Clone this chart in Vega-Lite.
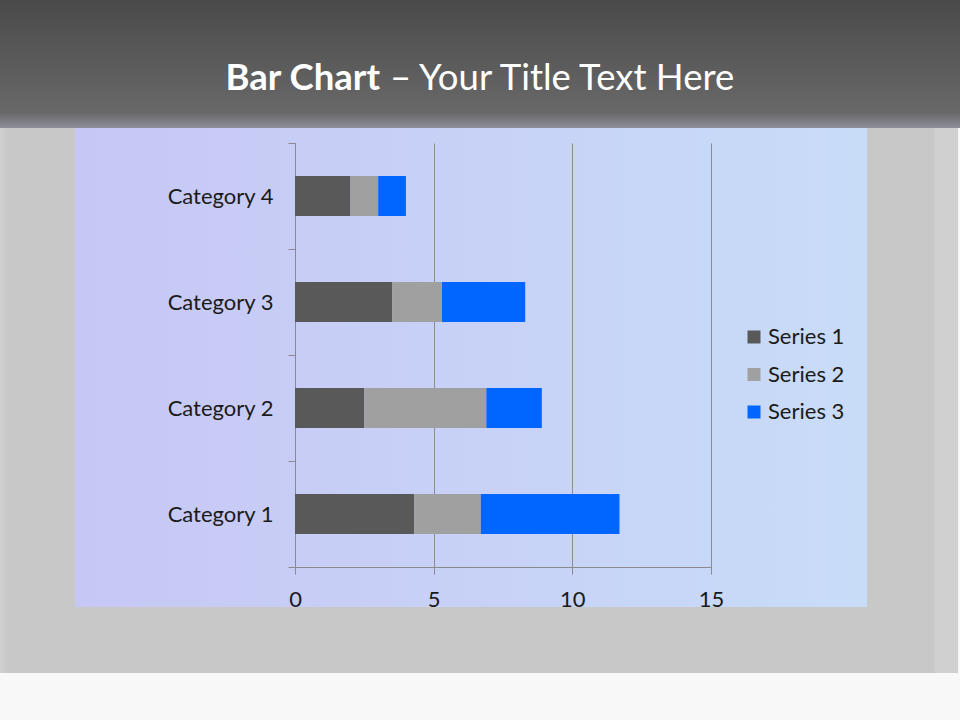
{
  "$schema": "https://vega.github.io/schema/vega-lite/v6.json",
  "description": "Stacked horizontal bar chart on a slide-style background.",
  "background": "#f8f8f8",
  "padding": 0,
  "spacing": 0,
  "bounds": "flush",
  "config": {"view": {"stroke": null}, "font": "Lato"},
  "resolve": {"legend": {"color": "independent"}},
  "datasets": {
    "bars": [
      {"category": "Category 1", "series": "Series 1", "value": 4.3},
      {"category": "Category 1", "series": "Series 2", "value": 2.4},
      {"category": "Category 1", "series": "Series 3", "value": 5.0},
      {"category": "Category 2", "series": "Series 1", "value": 2.5},
      {"category": "Category 2", "series": "Series 2", "value": 4.4},
      {"category": "Category 2", "series": "Series 3", "value": 2.0},
      {"category": "Category 3", "series": "Series 1", "value": 3.5},
      {"category": "Category 3", "series": "Series 2", "value": 1.8},
      {"category": "Category 3", "series": "Series 3", "value": 3.0},
      {"category": "Category 4", "series": "Series 1", "value": 2.0},
      {"category": "Category 4", "series": "Series 2", "value": 1.0},
      {"category": "Category 4", "series": "Series 3", "value": 1.0}
    ]
  },
  "vconcat": [
    {
      "width": 960,
      "height": 128,
      "view": {
        "stroke": null,
        "fill": {
          "gradient": "linear", "x1": 0, "y1": 0, "x2": 0, "y2": 1,
          "stops": [
            {"offset": 0, "color": "#4a4a4a"},
            {"offset": 0.88, "color": "#686868"},
            {"offset": 1, "color": "#8e8e9a"}
          ]
        }
      },
      "data": {"values": [{"bold": "Bar Chart", "rest": "– Your Title Text Here"}]},
      "layer": [
        {
          "mark": {"type": "text", "align": "right", "baseline": "alphabetic", "dx": -100, "dy": 26,
                   "font": "Lato", "fontSize": 36.5, "fontWeight": "bold", "color": "#ffffff"},
          "encoding": {"text": {"field": "bold"}}
        },
        {
          "mark": {"type": "text", "align": "left", "baseline": "alphabetic", "dx": -90, "dy": 26,
                   "font": "Lato", "fontSize": 36.5, "fontWeight": "normal", "color": "#ffffff"},
          "encoding": {"text": {"field": "rest"}}
        }
      ]
    },
    {
      "width": 958,
      "height": 454,
      "view": {
        "stroke": null,
        "fill": {
          "gradient": "linear", "x1": 0, "y1": 0, "x2": 1, "y2": 0,
          "stops": [
            {"offset": 0, "color": "#d0d0d0"},
            {"offset": 0.008, "color": "#c8c8c8"},
            {"offset": 0.0783, "color": "#c8c8c8"},
            {"offset": 0.0784, "color": "#c7c7f5"},
            {"offset": 0.905, "color": "#c8dcf8"},
            {"offset": 0.9051, "color": "#c8c8c8"},
            {"offset": 0.975, "color": "#c8c8c8"},
            {"offset": 0.976, "color": "#d0d0d0"},
            {"offset": 1, "color": "#d0d0d0"}
          ]
        }
      },
      "data": {"name": "bars"},
      "mark": {"type": "bar", "strokeWidth": 0, "height": {"band": 0.377}},
      "encoding": {
        "y": {
          "field": "category", "type": "nominal", "sort": "descending",
          "scale": {"range": [15, 439], "paddingInner": 0, "paddingOuter": 0},
          "axis": {
            "title": null, "orient": "left", "offset": -295, "tickBand": "extent",
            "tickSize": 7, "domainColor": "#8a8a8a", "tickColor": "#8a8a8a",
            "labelFont": "Lato", "labelFontSize": 22, "labelColor": "#1a1a1a", "labelPadding": 15,
            "grid": false
          }
        },
        "x": {
          "field": "value", "type": "quantitative", "stack": "zero",
          "scale": {"domain": [0, 15], "range": [295, 711], "nice": false},
          "axis": {
            "title": null, "orient": "bottom", "values": [0, 5, 10, 15],
            "grid": true, "gridColor": "#8c8c8c", "gridOpacity": 1, "gridWidth": 1,
            "domain": false, "ticks": false, "labels": false
          }
        },
        "color": {
          "field": "series", "type": "nominal",
          "scale": {"domain": ["Series 1", "Series 2", "Series 3"], "range": ["#595959", "#a0a0a0", "#0066ff"]},
          "legend": {
            "title": null, "orient": "none", "legendX": 743, "legendY": 198, "padding": 0,
            "symbolType": "square", "symbolSize": 169, "symbolStrokeWidth": 0,
            "labelFont": "Lato", "labelFontSize": 22, "labelColor": "#1a1a1a",
            "labelOffset": 3, "rowPadding": 15.5
          }
        }
      }
    },
    {
      "width": 958,
      "height": 25,
      "view": {
        "stroke": null,
        "fill": {
          "gradient": "linear", "x1": 0, "y1": 0, "x2": 1, "y2": 0,
          "stops": [
            {"offset": 0, "color": "#d0d0d0"},
            {"offset": 0.008, "color": "#c8c8c8"},
            {"offset": 0.0783, "color": "#c8c8c8"},
            {"offset": 0.0784, "color": "#c7c7f5"},
            {"offset": 0.905, "color": "#c8dcf8"},
            {"offset": 0.9051, "color": "#c8c8c8"},
            {"offset": 0.975, "color": "#c8c8c8"},
            {"offset": 0.976, "color": "#d0d0d0"},
            {"offset": 1, "color": "#d0d0d0"}
          ]
        }
      },
      "data": {"name": "bars"},
      "mark": {"type": "text", "text": " "},
      "encoding": {
        "x": {
          "field": "value", "type": "quantitative",
          "scale": {"domain": [0, 15], "range": [295, 711], "nice": false},
          "axis": {
            "title": null, "orient": "bottom", "offset": -40, "values": [0, 5, 10, 15],
            "grid": false, "labelFlush": false,
            "tickSize": 7, "domainColor": "#8a8a8a", "tickColor": "#8a8a8a",
            "labelFont": "Lato", "labelFontSize": 22, "labelColor": "#1a1a1a", "labelPadding": 15
          }
        }
      }
    },
    {
      "width": 958,
      "height": 66,
      "view": {
        "stroke": null,
        "fill": {
          "gradient": "linear", "x1": 0, "y1": 0, "x2": 1, "y2": 0,
          "stops": [
            {"offset": 0, "color": "#d0d0d0"},
            {"offset": 0.008, "color": "#c8c8c8"},
            {"offset": 0.975, "color": "#c8c8c8"},
            {"offset": 0.976, "color": "#d0d0d0"},
            {"offset": 1, "color": "#d0d0d0"}
          ]
        }
      },
      "data": {"values": [{"t": ""}]},
      "mark": {"type": "text"},
      "encoding": {"text": {"field": "t"}}
    },
    {
      "width": 960,
      "height": 47,
      "view": {"stroke": null, "fill": "#f8f8f8"},
      "data": {"values": [{"t": ""}]},
      "mark": {"type": "text"},
      "encoding": {"text": {"field": "t"}}
    }
  ]
}
